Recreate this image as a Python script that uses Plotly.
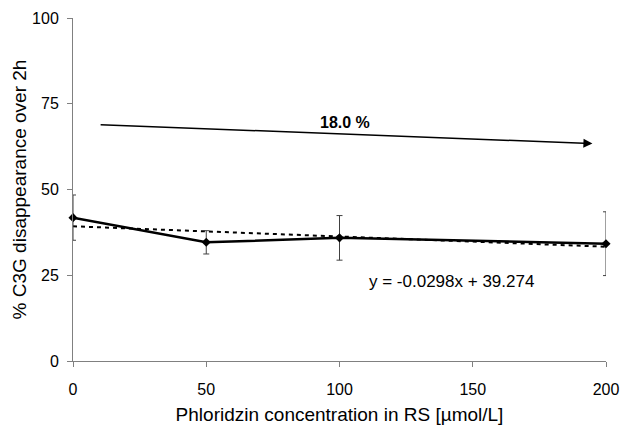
import plotly.graph_objects as go

# Data
concentration = [0, 50, 100, 200]
disappearance = [41.8, 34.6, 35.9, 34.2]
err = [6.6, 3.4, 6.5, 9.3]

slope = -0.0298
intercept = 39.274
trend_x = [0, 200]
trend_y = [intercept + slope * v for v in trend_x]

arrow_start = (9.8, 68.9)
arrow_end = (194.9, 63.4)
arrow_label = "18.0 %"
equation = "y = -0.0298x + 39.274"

x_ticks = [0, 50, 100, 150, 200]
y_ticks = [0, 25, 50, 75, 100]

FONT = "Liberation Sans"

fig = go.Figure()

fig.add_trace(go.Scatter(
    x=trend_x, y=trend_y, mode="lines",
    line=dict(color="black", width=2, dash="4px,4px"),
    hoverinfo="skip", showlegend=False, cliponaxis=False,
))

fig.add_trace(go.Scatter(
    x=concentration, y=disappearance, mode="lines+markers",
    line=dict(color="black", width=2.5),
    marker=dict(symbol="diamond", size=7, color="black"),
    error_y=dict(type="data", array=err, visible=True,
                 color="#404040", thickness=1, width=3),
    showlegend=False, cliponaxis=False,
))

fig.add_annotation(
    x=arrow_end[0], y=arrow_end[1], ax=arrow_start[0], ay=arrow_start[1],
    xref="x", yref="y", axref="x", ayref="y",
    showarrow=True, arrowhead=2, arrowsize=1.2, arrowwidth=1.5,
    arrowcolor="black", text="",
)
fig.add_annotation(
    x=102, y=69.4, xref="x", yref="y", text="<b>" + arrow_label + "</b>",
    showarrow=False, font=dict(family=FONT, size=16, color="black"),
)
fig.add_annotation(
    x=142, y=23.3, xref="x", yref="y", text=equation,
    showarrow=False, font=dict(family=FONT, size=17, color="black"),
)

axis_common = dict(
    showline=True, linecolor="#808080", linewidth=1,
    ticks="outside", ticklen=5, tickcolor="#808080", tickwidth=1,
    showgrid=False, zeroline=False, automargin=False,
    tickfont=dict(family=FONT, size=16, color="black"),
)

fig.update_xaxes(
    range=[0, 200], tickvals=x_ticks, ticklabelstandoff=9,
    title=dict(text="Phloridzin concentration in RS [µmol/L]",
               font=dict(family=FONT, size=19, color="black"), standoff=15),
    **axis_common,
)
fig.update_yaxes(
    range=[0, 100], tickvals=y_ticks, ticklabelstandoff=5,
    title=dict(text="% C3G disappearance over 2h",
               font=dict(family=FONT, size=19, color="black"), standoff=0),
    **axis_common,
)

fig.update_layout(
    width=623, height=425,
    margin=dict(l=73, r=17, t=18, b=64),
    plot_bgcolor="white", paper_bgcolor="white",
    font=dict(family=FONT, size=16, color="black"),
)

fig.write_html("out.html")
